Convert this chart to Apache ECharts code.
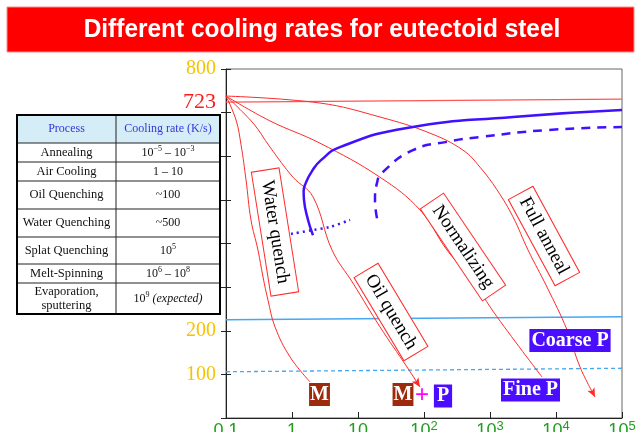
<!DOCTYPE html>
<html><head><meta charset="utf-8">
<script src="https://cdn.jsdelivr.net/npm/echarts@6/dist/echarts.min.js"></script>
<style>html,body{margin:0;padding:0;background:#fff}#c{width:640px;height:432px}</style>
</head><body><div id="c"></div>
<script>
// ---- data (cooling rate axis is log, K/s; temperature in °C) ----
const titleText = 'Different cooling rates for eutectoid steel';
const yLabelValues = [100, 200, 723, 800];
const yTickValues = [0, 100, 200, 300, 400, 500, 600, 700, 800];

const eutectoidLine = [[0.1, 724], [100000, 731]];
const msLine = [[0.1, 225], [100000, 232]];
const mfLine = [[0.1, 106], [100000, 114]];

const waterQuench = [[0.1,738],[0.142,683],[0.169,626],[0.201,546],[0.239,454],[0.305,385],[0.364,323],[0.433,270],[0.552,209],[0.933,140],[1.87,83]];
const oilQuench = [[0.1,738],[0.257,676],[0.464,621],[1.035,552],[2.08,507],[4.04,385],[8.4,309],[21.5,209],[55.2,117],[86.9,71]];
const normalizing = [[0.1,738],[0.464,681],[2.65,630],[21.5,552],[86.9,477],[223,385],[498,323],[1276,232],[6140,94]];
const fullAnneal = [[0.1,738],[2.65,722],[21.5,690],[123,653],[390,614],[705,575],[1276,523],[2230,461],[3770,385],[7310,300],[14700,202],[23100,117],[39000,48]];

const pearliteStart = [[2.08,419],[1.75,454],[1.52,500],[1.50,520],[1.62,539],[2.01,566],[2.75,591],[5.33,621],[55.2,665],[2230,690],[100000,706]];
const pearliteFinish = [[19.4,458],[18.1,500],[19.4,539],[23.1,562],[68.1,614],[223,633],[705,644],[7310,660],[100000,667]];
const martensiteDotted = [[0.966,422],[2.08,431],[3.77,438],[7.57,454]];

const tableHeader = ['Process', 'Cooling rate (K/s)'];
const processes = ['Annealing','Air Cooling','Oil Quenching','Water Quenching','Splat Quenching','Melt-Spinning','Evaporation,\nsputtering'];
const rates = ['10{s|−5} – 10{s|−3}','1 – 10','~100','~500','10{s|5}','10{s|6} – 10{s|8}','10{s|9} {i|(expected)}'];

const curveLabels = ['Water quench', 'Oil quench', 'Normalizing', 'Full anneal'];
const phaseLabels = ['M', 'M', 'P', 'Fine P', 'Coarse P'];

// ---- chart ----
const chart = echarts.init(document.getElementById('c'), null, {renderer: 'canvas'});
const RED = '#ff2a2a', BLUE = '#4010ff', LBLUE = '#45a8f0';
const serif = '"Liberation Serif", "DejaVu Serif", serif';

function withArrow(data, rot) {
  return data.map((p, i) => i === data.length - 1
    ? {value: p, symbol: 'arrow', symbolSize: [6, 9], symbolRotate: rot, itemStyle: {color: RED}}
    : {value: p, symbol: 'none'});
}

function buildTable() {
  const xs = [17, 116, 220];
  const ys = [115, 143, 162, 181, 209, 237, 264, 283, 314];
  const els = [];
  els.push({type: 'rect', shape: {x: xs[0], y: ys[0], width: xs[2]-xs[0], height: ys[ys.length-1]-ys[0]}, style: {fill: '#fff', stroke: null}, z: 100});
  els.push({type: 'rect', shape: {x: xs[0], y: ys[0], width: xs[2]-xs[0], height: ys[1]-ys[0]}, style: {fill: '#d5edf6'}, z: 101});
  for (let i = 1; i < ys.length - 1; i++) {
    els.push({type: 'line', shape: {x1: xs[0], y1: ys[i], x2: xs[2], y2: ys[i]}, style: {stroke: '#222', lineWidth: 1}, z: 102});
  }
  els.push({type: 'line', shape: {x1: xs[1], y1: ys[0], x2: xs[1], y2: ys[ys.length-1]}, style: {stroke: '#222', lineWidth: 1}, z: 102});
  els.push({type: 'rect', shape: {x: xs[0], y: ys[0], width: xs[2]-xs[0], height: ys[ys.length-1]-ys[0]}, style: {fill: null, stroke: '#000', lineWidth: 2}, z: 103});
  const cx = [(xs[0]+xs[1])/2, (xs[1]+xs[2])/2];
  tableHeader.forEach((t, j) => {
    els.push({type: 'text', x: cx[j], y: (ys[0]+ys[1])/2, z: 104,
      style: {text: t, fill: '#3636dc', font: '12px ' + serif, align: 'center', verticalAlign: 'middle'}});
  });
  const rich = {
    s: {fontSize: 8, fontFamily: serif, lineHeight: 6, verticalAlign: 'top', fill: '#111'},
    i: {fontSize: 12, fontStyle: 'italic', fontFamily: serif, lineHeight: 16, fill: '#111'}
  };
  processes.forEach((p, r) => {
    const yc = (ys[r+1]+ys[r+2])/2;
    els.push({type: 'text', x: cx[0], y: yc, z: 104,
      style: {text: p, fill: '#111', font: '12.5px ' + serif, lineHeight: 14, align: 'center', verticalAlign: 'middle'}});
    els.push({type: 'text', x: cx[1], y: yc, z: 104,
      style: {text: rates[r], fill: '#111', font: '12px ' + serif, lineHeight: 16, align: 'center', verticalAlign: 'middle', rich: rich}});
  });
  return els;
}

function curveBox(text, x, y, deg, padH) {
  return {type: 'text', x: x, y: y, rotation: deg * Math.PI / 180, z: 50,
    style: {text: text, font: '19px ' + serif, fill: '#000', backgroundColor: '#fff',
      borderColor: RED, borderWidth: 1, padding: [4, padH], align: 'center', verticalAlign: 'middle'}};
}
function phaseBox(text, x, y, bg, pad) {
  return {type: 'text', x: x, y: y, z: 50,
    style: {text: text, font: 'bold 20px ' + serif, fill: '#fff', backgroundColor: bg,
      padding: pad, align: 'center', verticalAlign: 'middle'}};
}

const option = {
  animation: false,
  backgroundColor: '#fff',
  grid: {left: 226, right: 18, top: 69, bottom: 14, show: true, borderColor: '#666', borderWidth: 1,
    containLabel: false, outerBoundsMode: 'none'},
  xAxis: {
    type: 'log', logBase: 10, min: 0.1, max: 100000,
    axisLine: {show: true, lineStyle: {color: '#222', width: 1}},
    axisTick: {show: true, inside: true, length: 6, lineStyle: {color: '#222'}},
    splitLine: {show: false}, minorTick: {show: false},
    axisLabel: {
      margin: 2, color: '#1f9e1f', fontSize: 18, fontFamily: '"Liberation Sans", Arial, sans-serif', lineHeight: 22,
      formatter: v => {
        const e = Math.round(Math.log10(v));
        if (e === -1) return '0.1';
        if (e === 0) return '1';
        if (e === 1) return '10';
        return '10{s|' + e + '}';
      },
      rich: {s: {fontSize: 13, color: '#1f9e1f', fontFamily: '"Liberation Sans", Arial, sans-serif', lineHeight: 12, verticalAlign: 'top'}}
    }
  },
  yAxis: [{
    type: 'value', min: 0, max: 800, interval: 100, position: 'left',
    axisLine: {show: true, lineStyle: {color: '#222'}},
    axisTick: {show: true, length: 5, customValues: yTickValues, lineStyle: {color: '#222'}},
    splitLine: {show: false},
    axisLabel: {
      customValues: yLabelValues, margin: 10,
      formatter: v => v === 723 ? '{r|723}' : '{g|' + v + '}',
      rich: {
        r: {color: '#ff1a1a', fontSize: 22, fontFamily: serif},
        g: {color: '#f7c300', fontSize: 20, fontFamily: serif}
      }
    }
  }, {
    type: 'value', min: 0, max: 800, interval: 100, position: 'left', offset: 0,
    axisLine: {show: false}, axisLabel: {show: false}, splitLine: {show: false},
    axisTick: {show: true, inside: true, length: 5, lineStyle: {color: '#222'}}
  }],
  series: [
    {type: 'line', data: eutectoidLine, symbol: 'none', lineStyle: {color: '#ff5555', width: 1.2}},
    {type: 'line', data: msLine, symbol: 'none', lineStyle: {color: LBLUE, width: 1.5}},
    {type: 'line', data: mfLine, symbol: 'none', lineStyle: {color: LBLUE, width: 1.3, type: [4, 3]}},
    {type: 'line', data: waterQuench, symbol: 'none', smooth: 0.4, lineStyle: {color: RED, width: 1}},
    {type: 'line', data: withArrow(oilQuench, 213), showSymbol: true, smooth: 0.4, lineStyle: {color: RED, width: 1}},
    {type: 'line', data: normalizing, symbol: 'none', smooth: 0.4, lineStyle: {color: RED, width: 1}},
    {type: 'line', data: withArrow(fullAnneal, 207), showSymbol: true, smooth: 0.4, lineStyle: {color: RED, width: 1}},
    {type: 'line', data: pearliteStart, symbol: 'none', smooth: 0.5, lineStyle: {color: BLUE, width: 2.5}},
    {type: 'line', data: pearliteFinish, symbol: 'none', smooth: 0.5, lineStyle: {color: BLUE, width: 2.5, type: [9, 7]}},
    {type: 'line', data: martensiteDotted, symbol: 'none', smooth: 0.3, lineStyle: {color: BLUE, width: 2.5, type: [2, 4]}}
  ],
  graphic: [
    {type: 'rect', shape: {x: 7, y: 7, width: 627, height: 45}, style: {fill: '#ff0000', stroke: '#ff8a8a', lineWidth: 1}, z: 100},
    {type: 'text', x: 322, y: 30, scaleX: 0.94, z: 101,
      style: {text: titleText, font: 'bold 26px "Liberation Sans", Arial, sans-serif', fill: '#fff', align: 'center', verticalAlign: 'middle'}},
    ...buildTable(),
    curveBox(curveLabels[0], 275, 232, -81, 10),
    curveBox(curveLabels[1], 391, 312, -59, 6),
    curveBox(curveLabels[2], 463, 247, -56, 7),
    curveBox(curveLabels[3], 544, 236, -61.5, 6),
    phaseBox(phaseLabels[0], 319.5, 394.5, '#9c2a0c', [2, 1, 1, 1]),
    phaseBox(phaseLabels[1], 403, 394.5, '#9c2a0c', [2, 1, 1, 1]),
    {type: 'text', x: 422, y: 395, z: 50, style: {text: '+', font: '24px "Liberation Sans", sans-serif', fill: '#ff00ff', align: 'center', verticalAlign: 'middle'}},
    phaseBox(phaseLabels[2], 443, 396, '#4a0dff', [2, 3, 1, 3]),
    phaseBox(phaseLabels[3], 530.5, 390, '#4a0dff', [2, 2, 1, 2]),
    phaseBox(phaseLabels[4], 570, 340.5, '#4a0dff', [2, 2, 1, 2])
  ]
};
chart.setOption(option);
</script>
</body></html>
